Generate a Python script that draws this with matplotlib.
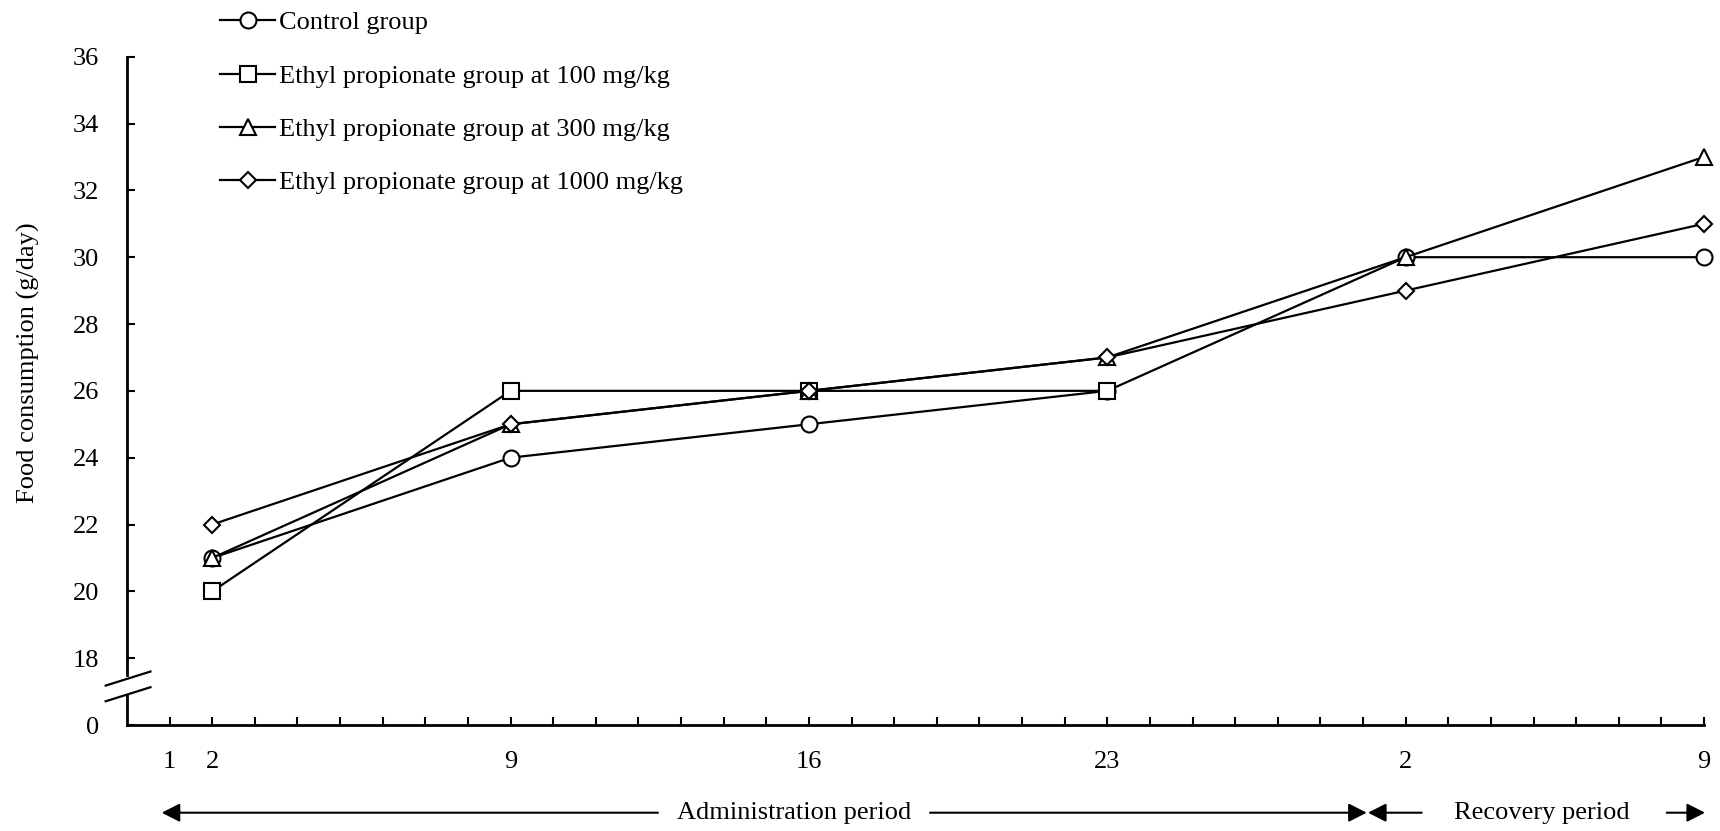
import matplotlib.pyplot as plt

plt.rcParams['font.family'] = ['Liberation Serif', 'DejaVu Serif']

# x positions: days counted along the whole study, recovery days follow day 28
days = [2, 9, 16, 23, 30, 37]
control = [21, 24, 25, 26, 30, 30]
ep100 = [20, 26, 26, 26]          # no recovery group at 100 mg/kg
ep300 = [21, 25, 26, 27, 30, 33]
ep1000 = [22, 25, 26, 27, 29, 31]

labels = ["Control group",
          "Ethyl propionate group at 100 mg/kg",
          "Ethyl propionate group at 300 mg/kg",
          "Ethyl propionate group at 1000 mg/kg"]
markers = ['o', 's', '^', 'D']
msizes = [11.5, 11.5, 11.5, 8.5]

xtick_pos = [1, 2, 9, 16, 23, 30, 37]
xtick_lab = ['1', '2', '9', '16', '23', '2', '9']
ytick_pos = [16, 18, 20, 22, 24, 26, 28, 30, 32, 34, 36]
ytick_lab = ['0', '18', '20', '22', '24', '26', '28', '30', '32', '34', '36']

FS = 19
W, H = 1720, 831
fig = plt.figure(figsize=(W/100, H/100), dpi=100)
ax = fig.add_axes([127/W, 1-725/H, (1704-127)/W, (725-56.7)/H])

for ys, m, ms, lab in zip([control, ep100, ep300, ep1000], markers, msizes, labels):
    ax.plot(days[:len(ys)], ys, color='k', lw=1.6, marker=m, markersize=ms,
            markerfacecolor='white', markeredgecolor='k', markeredgewidth=1.5,
            label=lab, clip_on=False)

ax.set_xlim(0, 37)
ax.set_ylim(16, 36)
ax.set_xticks(range(1, 38))
ax.set_xticklabels([xtick_lab[xtick_pos.index(i)] if i in xtick_pos else '' for i in range(1, 38)])
ax.set_yticks(ytick_pos)
ax.set_yticklabels(ytick_lab)
ax.tick_params(axis='x', direction='in', length=6, width=1.5, pad=19, labelsize=FS)
ax.tick_params(axis='y', direction='in', length=6, width=1.5, pad=20, labelsize=FS)
for s in ['top', 'right']:
    ax.spines[s].set_visible(False)
ax.spines['left'].set_visible(False)
ax.spines['bottom'].set_linewidth(2)

# broken y axis
ax.plot([0, 0], [17.5, 36], color='k', lw=2, clip_on=False)
ax.plot([0, 0], [16, 16.9], color='k', lw=2, clip_on=False)
ax.plot([-0.5, 0.55], [17.18, 17.6], color='k', lw=1.6, clip_on=False)
ax.plot([-0.5, 0.55], [16.71, 17.13], color='k', lw=1.6, clip_on=False)

fig.text(28/W, 1-363/H, "Food consumption (g/day)", rotation=90,
         ha='center', va='center', fontsize=FS)

ax.legend(loc='upper left', bbox_to_anchor=(220/W, 1-11/H), bbox_transform=fig.transFigure,
          frameon=False, fontsize=FS, handlelength=2.1, handletextpad=0.12,
          labelspacing=1.13, borderpad=0, borderaxespad=0)

# period arrows
def fx(px):
    return px / W

yarr = 1 - 812.7/H
aprops = dict(arrowstyle='-|>,head_length=0.55,head_width=0.28', mutation_scale=20,
              lw=1.5, color='k', shrinkA=0, shrinkB=0)
ax.annotate('', xy=(fx(161.7), yarr), xytext=(fx(658), yarr),
            xycoords='figure fraction', textcoords='figure fraction', arrowprops=aprops)
ax.annotate('', xy=(fx(1366.7), yarr), xytext=(fx(930), yarr),
            xycoords='figure fraction', textcoords='figure fraction', arrowprops=aprops)
ax.annotate('', xy=(fx(1368), yarr), xytext=(fx(1421.7), yarr),
            xycoords='figure fraction', textcoords='figure fraction', arrowprops=aprops)
ax.annotate('', xy=(fx(1705), yarr), xytext=(fx(1666.7), yarr),
            xycoords='figure fraction', textcoords='figure fraction', arrowprops=aprops)
fig.text(fx(794), yarr, "Administration period", ha='center', va='center', fontsize=FS)
fig.text(fx(1542), yarr, "Recovery period", ha='center', va='center', fontsize=FS)

fig.savefig('out.png', dpi=100)
